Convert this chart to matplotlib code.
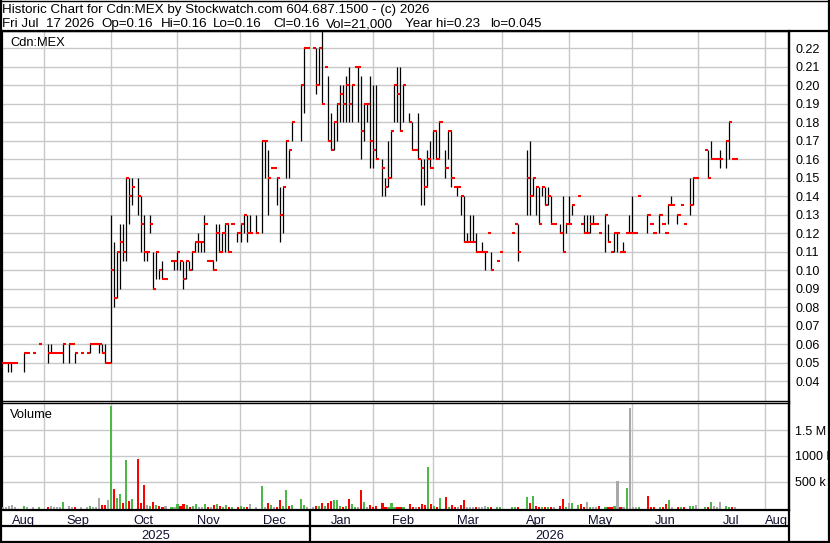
"""Stockwatch-style historic chart for Cdn:MEX: daily high/low bars with close ticks, volume below."""
import numpy as np

import matplotlib
matplotlib.use("Agg")
import matplotlib.pyplot as plt

plt.rcParams["font.family"] = ["Liberation Sans", "DejaVu Sans"]

START = "2025-08-11"   # first weekday shown on the chart

# trading session = weekdays since START (weekday scale, like the original)
session = [
    1, 2, 3, 4, 5, 8, 9, 11, 13, 16,
    17, 18, 19, 20, 21, 23, 24, 25, 27, 29,
    30, 31, 32, 33, 34, 35, 36, 37, 38, 39,
    40, 41, 42, 43, 44, 46, 47, 48, 49, 50,
    51, 52, 53, 54, 55, 57, 58, 59, 60, 61,
    62, 63, 64, 65, 66, 67, 68, 69, 70, 71,
    72, 73, 74, 75, 76, 77, 79, 80, 81, 82,
    83, 85, 87, 88, 89, 90, 91, 92, 93, 94,
    95, 96, 97, 100, 101, 102, 104, 105, 106, 107,
    108, 109, 110, 111, 112, 113, 114, 115, 116, 117,
    118, 119, 120, 121, 122, 123, 124, 125, 127, 128,
    129, 130, 131, 132, 133, 134, 136, 137, 138, 139,
    140, 141, 142, 143, 144, 145, 146, 148, 149, 150,
    151, 152, 153, 154, 155, 156, 157, 158, 159, 160,
    161, 162, 163, 165, 166, 170, 171, 172, 175, 176,
    177, 178, 179, 180, 181, 182, 183, 184, 186, 187,
    188, 189, 190, 192, 193, 194, 195, 196, 197, 198,
    199, 201, 202, 203, 204, 205, 206, 207, 208, 209,
    210, 211, 212, 215, 216, 217, 219, 220, 221, 222,
    223, 225, 226, 227, 229, 230, 231, 234, 235, 236,
    237, 238, 239, 241, 242, 243, 244,
]
hi = [
    .05, .05, .05, .05, .05, .055, .055, .055, .06, .06,
    .06, .055, .055, .055, .06, .06, .06, .055, .055, .055,
    .06, .06, .06, .06, .06, .06, .05, .13, .115, .11,
    .125, .125, .15, .15, .15, .15, .14, .13, .11, .13,
    .11, .11, .10, .105, .095, .105, .105, .11, .105, .105,
    .105, .105, .11, .115, .12, .115, .13, .105, .105, .105,
    .125, .125, .12, .125, .125, .125, .12, .125, .13, .13,
    .13, .13, .17, .17, .165, .155, .155, .15, .145, .145,
    .17, .165, .18, .20, .22, .22, .22, .22, .22, .23,
    .21, .205, .185, .18, .19, .20, .20, .205, .21, .20,
    .21, .21, .205, .19, .19, .205, .20, .20, .16, .15,
    .17, .175, .20, .21, .21, .20, .185, .18, .165, .185,
    .16, .16, .165, .17, .175, .175, .18, .165, .175, .175,
    .145, .145, .14, .14, .12, .13, .13, .12, .11, .115,
    .11, .12, .11, .105, .11, .12, .125, .125, .165, .17,
    .15, .145, .145, .145, .145, .145, .14, .125, .125, .14,
    .125, .14, .135, .14, .125, .13, .13, .13, .13, .125,
    .12, .13, .125, .11, .12, .12, .11, .115, .12, .13,
    .14, .12, .14, .13, .125, .12, .13, .125, .12, .135,
    .14, .13, .135, .125, .15, .15, .15, .165, .165, .17,
    .16, .16, .165, .17, .18, .16, .16,
]
lo = [
    .05, .05, .045, .045, .05, .045, .055, .055, .06, .05,
    .055, .055, .055, .055, .05, .05, .06, .05, .055, .055,
    .055, .06, .06, .055, .055, .05, .05, .05, .08, .085,
    .09, .105, .105, .125, .135, .13, .11, .105, .105, .12,
    .09, .095, .095, .095, .095, .105, .10, .10, .10, .09,
    .095, .10, .10, .11, .11, .11, .11, .105, .105, .10,
    .105, .11, .11, .11, .11, .125, .115, .115, .12, .115,
    .12, .12, .12, .15, .13, .155, .155, .135, .115, .12,
    .15, .15, .17, .17, .185, .22, .22, .195, .20, .19,
    .21, .17, .165, .165, .17, .18, .18, .18, .18, .18,
    .21, .18, .16, .17, .18, .155, .155, .16, .14, .14,
    .145, .15, .18, .18, .175, .18, .18, .165, .165, .16,
    .135, .135, .145, .155, .16, .16, .16, .15, .16, .145,
    .145, .14, .13, .115, .115, .115, .115, .11, .11, .11,
    .10, .12, .10, .105, .11, .12, .125, .105, .13, .13,
    .14, .13, .125, .14, .135, .135, .125, .125, .12, .11,
    .12, .125, .13, .14, .125, .12, .12, .12, .125, .125,
    .12, .11, .115, .11, .11, .11, .11, .11, .12, .12,
    .12, .12, .14, .12, .125, .12, .12, .125, .12, .125,
    .135, .125, .135, .125, .13, .135, .15, .165, .15, .16,
    .16, .16, .155, .155, .16, .16, .16,
]
cl = [
    .05, .05, .05, .05, .05, .055, .055, .055, .06, .055,
    .055, .055, .055, .055, .06, .06, .06, .055, .055, .055,
    .06, .06, .06, .06, .055, .05, .05, .10, .085, .11,
    .115, .11, .15, .14, .145, .14, .125, .11, .11, .125,
    .09, .11, .10, .095, .095, .105, .105, .11, .105, .095,
    .105, .10, .11, .115, .115, .115, .125, .105, .105, .10,
    .12, .11, .12, .125, .11, .125, .12, .125, .13, .12,
    .12, .12, .17, .17, .15, .155, .155, .15, .13, .145,
    .17, .165, .18, .20, .22, .22, .22, .20, .22, .19,
    .21, .17, .165, .18, .19, .195, .19, .20, .19, .20,
    .21, .21, .175, .19, .19, .17, .165, .16, .155, .145,
    .15, .175, .20, .195, .175, .20, .18, .165, .165, .16,
    .155, .145, .16, .155, .175, .16, .18, .155, .175, .15,
    .145, .145, .14, .115, .115, .115, .115, .11, .11, .11,
    .11, .12, .10, .105, .11, .12, .125, .11, .15, .14,
    .15, .145, .125, .145, .135, .14, .125, .125, .12, .11,
    .125, .125, .135, .14, .125, .12, .12, .125, .125, .125,
    .12, .13, .115, .11, .12, .12, .11, .11, .12, .12,
    .12, .12, .14, .13, .125, .12, .13, .125, .12, .135,
    .135, .13, .135, .125, .135, .15, .15, .165, .15, .16,
    .16, .16, .16, .17, .18, .16, .16,
]
# volume, millions of shares
vol = [
    .01, .02, .03, .05, .01, .04, .01, .01, .02, .01,
    .04, .02, .02, .01, .11, .03, .01, .02, .01, .01,
    .04, .02, .02, .19, .05, .06, .15, 1.97, .36, .19,
    .27, .10, .93, .14, .17, .95, .09, .44, .05, .03,
    .11, .05, .03, .01, .04, .01, .02, .07, .03, .07,
    .06, .02, .03, .07, .02, .01, .08, .01, .02, .05,
    .08, .03, .01, .05, .01, .01, .02, .03, .01, .01,
    .07, .01, .42, .02, .09, .06, .01, .02, .15, .03,
    .34, .04, .05, .17, .05, .01, .01, .03, .03, .09,
    .03, .09, .13, .15, .15, .03, .02, .03, .17, .07,
    .01, .01, .34, .11, .02, .05, .02, .04, .09, .01,
    .01, .09, .02, .01, .01, .01, .07, .01, .01, .01,
    .08, .05, .79, .07, .03, .01, .19, .21, .01, .05,
    .01, .01, .05, .15, .01, .01, .02, .01, .02, .02,
    .04, .01, .01, .01, .01, .01, .01, .02, .21, .09,
    .23, .04, .01, .01, .01, .01, .02, .01, .04, .17,
    .02, .09, .09, .05, .07, .01, .11, .01, .02, .01,
    .03, .02, .01, .02, .03, .52, .01, .01, .38, 1.93,
    .02, .01, .01, .23, .01, .01, .01, .01, .07, .15,
    .01, .01, .01, .01, .03, .04, .05, .01, .01, .11,
    .04, .01, .11, .04, .02, .01, .021,
]

month_names = ["Aug", "Sep", "Oct", "Nov", "Dec", "Jan", "Feb", "Mar",
               "Apr", "May", "Jun", "Jul", "Aug"]
month_starts = ["2025-08-01", "2025-09-01", "2025-10-01", "2025-11-01",
                "2025-12-01", "2026-01-01", "2026-02-01", "2026-03-01",
                "2026-04-01", "2026-05-01", "2026-06-01", "2026-07-01",
                "2026-08-01", "2026-09-01"]
years = ["2025", "2026"]

title1 = "Historic Chart for Cdn:MEX by Stockwatch.com 604.687.1500 - (c) 2026"
title2 = ["Fri Jul  17 2026", "Op=0.16", "Hi=0.16", "Lo=0.16", "Cl=0.16",
          "Vol=21,000", "Year hi=0.23", "lo=0.045"]
title2_px = [2, 101, 161, 213, 273, 326, 405, 490]   # left edges in the header

assert len(session) == len(hi) == len(lo) == len(cl) == len(vol)

x = np.array(session, dtype=float)
hi = np.array(hi); lo = np.array(lo); cl = np.array(cl); vol = np.array(vol)

# month boundaries on the weekday scale (weekend firsts fall on the last session)
ms = np.array(month_starts, dtype="datetime64[D]")
mpos = np.busday_count(START, ms) - (~np.is_busday(ms)).astype(int)

XMIN, XMAX = 0.96, 262.1
GRID = "#c8c8c8"
GREEN, RED, GREY = "#4db848", "#ff0000", "#a9a9a9"

prev = np.r_[cl[0], cl[:-1]]
vcol = np.where(cl > prev + 1e-9, GREEN, np.where(cl < prev - 1e-9, RED, GREY))

W, H = 830, 543
fig = plt.figure(figsize=(W / 100, H / 100), dpi=100)


def box(x0, y0, x1, y1):
    return [x0 / W, 1 - y1 / H, (x1 - x0) / W, (y1 - y0) / H]


ax = fig.add_axes(box(2, 31, 789, 401))
axv = fig.add_axes(box(2, 402.5, 789, 510), sharex=ax)
axm = fig.add_axes(box(2, 510, 789, 526), sharex=ax)
axy = fig.add_axes(box(2, 526, 789, 541), sharex=ax)

# ---- price panel
ax.vlines(x + 0.1, lo, hi, color="black", lw=0.9, zorder=3)
ax.hlines(cl, x + 0.1, x + 1.15, color=RED, lw=1.5, zorder=4)
ax.set_yticks(np.arange(0.04, 0.2201, 0.01))
ax.yaxis.set_major_formatter(matplotlib.ticker.FormatStrFormatter("%.2f"))
ax.set_xticks(mpos)
ax.set_ylim(0.0292, 0.2292)
ax.grid(True, color=GRID, lw=1.0, zorder=0)
ax.tick_params(left=False, labelleft=False, bottom=False, labelbottom=False,
               right=False, labelright=True, length=0, pad=4.5, labelsize=9)
ax.text(8 / 787, 1 - 15 / 370, "Cdn:MEX", transform=ax.transAxes,
        fontsize=9.3, va="baseline", ha="left")

# ---- volume panel
VBOT = -0.04
axv.bar(x + 0.2, vol - VBOT, bottom=VBOT, width=0.7, color=vcol, zorder=3)
axv.set_yticks([0.5, 1.0, 1.5])
axv.set_yticklabels(["500 k", "1000 k", "1.5 M"])
axv.set_ylim(VBOT, 2.03)
axv.grid(True, color=GRID, lw=1.0, zorder=0)
axv.tick_params(left=False, labelleft=False, bottom=False, labelbottom=False,
                right=False, labelright=True, length=0, pad=4.5, labelsize=9)
axv.text(8 / 787, 1 - 16 / 107.5, "Volume", transform=axv.transAxes,
         fontsize=9.3, va="baseline", ha="left")

# ticks outside the view would widen it: fix the range last
ax.set_xlim(XMIN, XMAX)

for a in (ax, axv):
    for s in a.spines.values():
        s.set_color("black")
    a.spines["left"].set_linewidth(1.6)
    a.spines["right"].set_linewidth(1.6)
    a.spines["top"].set_linewidth(1.0)
    a.spines["bottom"].set_linewidth(1.0)

# ---- month / year rows
for a in (axm, axy):
    a.set_ylim(0, 1)
    a.tick_params(left=False, labelleft=False, bottom=False, labelbottom=False)
    for s in a.spines.values():
        s.set_visible(False)

for i, name in enumerate(month_names):
    lo_x = max(mpos[i], XMIN)
    hi_x = min(mpos[i + 1], XMAX)
    if hi_x <= lo_x:
        continue
    axm.text((lo_x + hi_x) / 2, 0.15, name, ha="center", va="baseline",
             fontsize=9.3, color="#101030", clip_on=True)

jan = mpos[month_names.index("Jan")]
year_spans = [(XMIN, jan), (jan, XMAX)]
for (a0, a1), yr in zip(year_spans, years):
    axy.text((a0 + a1) / 2, 0.12, yr, ha="center", va="baseline",
             fontsize=9.3, color="#101030")

# ---- frame lines (pixel overlay)
ov = fig.add_axes([0, 0, 1, 1], zorder=10)
ov.set_xlim(0, W)
ov.set_ylim(H, 0)
ov.axis("off")
ov.patch.set_alpha(0)
blk = dict(color="black", solid_capstyle="butt")
ov.plot([0, W], [0.5, 0.5], lw=1.0, **blk)
ov.plot([0, W], [30.5, 30.5], lw=1.6, **blk)
ov.plot([1, 1], [0, H], lw=1.6, **blk)
ov.plot([829, 829], [0, H], lw=1.6, **blk)
ov.plot([0, W], [542, 542], lw=1.6, **blk)
ov.plot([0, 789], [510.3, 510.3], lw=1.6, **blk)
ov.plot([0, 789], [526.3, 526.3], lw=1.6, **blk)
ov.plot([789, 789], [31, H], lw=1.6, **blk)
jan_px = ax.transData.transform((jan, 0))[0]
ov.plot([jan_px, jan_px], [510, 541], lw=1.6, **blk)

# ---- header text
fig.text(2 / W, 1 - 13.3 / H, title1, fontsize=9.6, va="baseline", ha="left")
for seg, px in zip(title2, title2_px):
    fig.text(px / W, 1 - 27.3 / H, seg, fontsize=9.6, va="baseline", ha="left")

plt.savefig("out.png", dpi=100)
print("Saved out.png")
